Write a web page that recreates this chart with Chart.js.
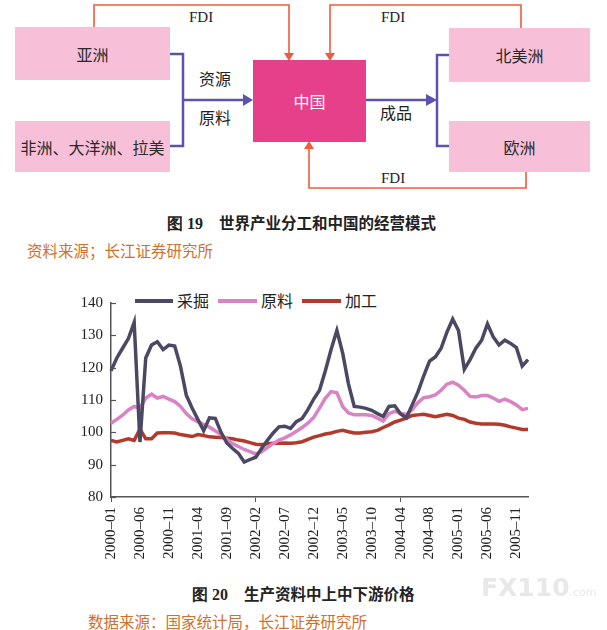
<!DOCTYPE html>
<html>
<head>
<meta charset="utf-8">
<script src="https://cdn.jsdelivr.net/npm/chart.js@4.4.0/dist/chart.umd.min.js"></script>
<style>
html,body{margin:0;padding:0;background:#fff;}
body{width:607px;height:630px;position:relative;overflow:hidden;font-family:"Noto Sans CJK SC",sans-serif;color:#222;}
.box{position:absolute;background:#f8bfd9;display:flex;align-items:center;justify-content:center;font-size:16px;color:#2a2a2a;}
.t{position:absolute;white-space:nowrap;line-height:20px;height:20px;}
.src{color:#d0702c;font-size:15.5px;}
.cap{font-weight:bold;font-size:15.5px;}
.cap b{font-family:"Liberation Serif",serif;font-size:16px;margin-right:16px;}
#legend{position:absolute;left:0;top:290px;height:20px;}
.lg{position:absolute;top:0;height:20px;line-height:20px;font-size:16px;white-space:nowrap;}
.lg i{position:absolute;top:9px;height:4px;}
#wrap{position:absolute;left:40px;top:285px;width:500px;height:295px;}
</style>
</head>
<body>

<svg width="607" height="200" style="position:absolute;left:0;top:0">
  <g fill="none" stroke="#ef5b3b" stroke-width="1.6">
    <path d="M94 27 V5 H289 V56"/>
    <path d="M521 28 V5 H330 V56"/>
    <path d="M526 172 V188 H309 V146"/>
  </g>
  <g fill="#ef5b3b">
    <polygon points="284,53 294,53 289,61"/>
    <polygon points="325,53 335,53 330,61"/>
    <polygon points="304,149 314,149 309,141"/>
  </g>
  <g fill="none" stroke="#5b53ae" stroke-width="2.5">
    <path d="M170 54 H183 V146 H170"/>
    <path d="M183 100 H246"/>
    <path d="M366 100 H428"/>
    <path d="M449 55 H437 V146 H449"/>
  </g>
  <g fill="#5b53ae">
    <polygon points="243,94 243,106 253,100"/>
    <polygon points="426,94 426,106 437,100"/>
  </g>
</svg>

<div class="box" style="left:15px;top:27px;width:155px;height:53px">亚洲</div>
<div class="box" style="left:15px;top:121px;width:155px;height:51px">非洲、大洋洲、拉美</div>
<div class="box" style="left:253px;top:60px;width:113px;height:82px;background:#e6408a;color:#fff;font-size:16px">中国</div>
<div class="box" style="left:449px;top:28px;width:141px;height:54px">北美洲</div>
<div class="box" style="left:449px;top:121px;width:141px;height:51px">欧洲</div>

<div class="t" style="left:189px;top:7px;font-family:'Liberation Serif',serif;font-size:15px">FDI</div>
<div class="t" style="left:381px;top:7px;font-family:'Liberation Serif',serif;font-size:15px">FDI</div>
<div class="t" style="left:381px;top:168px;font-family:'Liberation Serif',serif;font-size:15px">FDI</div>
<div class="t" style="left:199px;top:68px;font-size:16px">资源</div>
<div class="t" style="left:199px;top:107px;font-size:16px">原料</div>
<div class="t" style="left:380px;top:102px;font-size:16px">成品</div>

<div class="t cap" style="left:167px;top:212px"><b>图 19</b>世界产业分工和中国的经营模式</div>
<div class="t src" style="left:27px;top:240px">资料来源；长江证券研究所</div>

<div id="legend"></div>
<div id="wrap"><canvas id="chart"></canvas></div>

<div class="t cap" style="left:192px;top:583px"><b>图 20</b>生产资料中上中下游价格</div>
<div class="t src" style="left:88px;top:611px">数据来源：国家统计局，长江证券研究所</div>
<div class="t" style="left:481px;top:574px;height:28px;line-height:28px;font-family:'DejaVu Sans',sans-serif;font-weight:bold;font-size:25px;color:#e8e8e8">FX110<span style="font-size:11px;font-weight:normal">.com</span></div>

<script>
// months on the category axis
const months = [
  '2000-01','2000-02','2000-03','2000-04','2000-05','2000-06','2000-07','2000-08','2000-09','2000-10','2000-11','2000-12',
  '2001-01','2001-02','2001-03','2001-04','2001-05','2001-06','2001-07','2001-08','2001-09','2001-10','2001-11','2001-12',
  '2002-01','2002-02','2002-03','2002-04','2002-05','2002-06','2002-07','2002-08','2002-09','2002-10','2002-11','2002-12',
  '2003-01','2003-02','2003-03','2003-04','2003-05','2003-06','2003-07','2003-08','2003-09','2003-10','2003-11','2003-12',
  '2004-01','2004-02','2004-03','2004-04','2004-05','2004-06','2004-07','2004-08','2004-09','2004-10','2004-11','2004-12',
  '2005-01','2005-02','2005-03','2005-04','2005-05','2005-06','2005-07','2005-08','2005-09','2005-10','2005-11','2005-12',
  '2006-01'
];
// labels printed under every 5th month, as in the source
const tickLabels = ['2000–01','2000–06','2000–11','2001–04','2001–09','2002–02','2002–07','2002–12',
  '2003–05','2003–10','2004–04','2004–08','2005–01','2005–06','2005–11'];
const yTicks = [80, 90, 100, 110, 120, 130, 140];

const seriesNames = ['采掘', '原料', '加工'];
const mining = [119,123,126,129,134,97,123,127,128,125.6,
  127,126.7,120.4,111.5,107.5,104,100.5,104.5,104.3,100,
  96.7,95,93.5,90.8,91.6,92.3,95,97.5,99.8,101.7,
  101.9,101.2,103.3,104.3,107,110.3,113,119,125.6,131.5,
  124.5,115,108,107.8,107.4,106.8,105.8,104.9,108,108.2,
  105.7,104.5,108.5,112.5,117.5,122,123.3,126,131,135,
  131.5,119.5,122.5,126,128.5,133.5,129.5,127,128.5,127.5,
  126.2,120.5,122.5];
const material = [102.8,104,105.3,106.9,108,107.5,110.6,111.8,110.6,111.1,
  110.3,109.5,108,105.8,104.2,103.3,102.4,101.6,100.5,99.3,
  97.8,96.5,95.6,94.7,94,93.3,94,95.3,96.5,97.6,
  98.3,99.2,100.3,101.5,102.8,104.6,107.5,110.5,112.6,112.2,
  108,106,105.4,105.4,105.4,105.2,104.4,103.5,105.8,106.5,
  105.9,105.5,107,109.2,110.7,111,111.6,113,114.9,115.5,
  114.6,113,111.1,110.9,111.4,111.4,110.6,109.6,110.3,109.5,
  108.5,107,107.4];
const processing = [97.5,97,97.5,98,97.5,101,98,98,99.8,99.9,
  99.9,99.8,99.3,99,98.7,99.3,99,98.6,98.5,98.4,
  98.2,98,97.6,97.3,96.8,96.3,96.2,96.5,96.6,96.6,
  96.7,96.6,96.8,97.1,97.8,98.5,99,99.5,99.8,100.3,
  100.6,100.2,99.8,99.8,100,100.2,100.6,101.5,102.3,103.2,
  103.8,104.4,105.2,105.4,105.6,105.2,104.8,105.2,105.6,105.2,
  104.4,104,103.2,102.8,102.6,102.6,102.6,102.5,102.2,101.7,
  101.3,100.9,100.9];
const colors = ['#4a4862', '#d983c4', '#b23a2c'];

// legend as html text
const legendPos = [[135, 177], [218, 261], [302, 345]];
const legend = document.getElementById('legend');
seriesNames.forEach((name, i) => {
  const d = document.createElement('div');
  d.className = 'lg';
  d.style.left = legendPos[i][0] + 'px';
  d.innerHTML = '<i style="left:0;width:' + (legendPos[i][1] - legendPos[i][0] - 4) + 'px;background:' + colors[i] + '"></i>' +
    '<span style="position:absolute;left:' + (legendPos[i][1] - legendPos[i][0]) + 'px">' + name + '</span>';
  legend.appendChild(d);
});

// small inward ticks on the y axis
const yInnerTicks = {
  id: 'yInnerTicks',
  afterDraw(chart) {
    const y = chart.scales.y, ctx = chart.ctx, left = chart.chartArea.left;
    ctx.save();
    ctx.strokeStyle = '#555';
    ctx.lineWidth = 1.2;
    yTicks.forEach(v => {
      const py = Math.round(y.getPixelForValue(v)) + 0.5;
      ctx.beginPath();
      ctx.moveTo(left, py);
      ctx.lineTo(left + 5, py);
      ctx.stroke();
    });
    ctx.restore();
  }
};

const ctx = document.getElementById('chart');
new Chart(ctx, {
  type: 'line',
  data: {
    labels: months,
    datasets: [mining, material, processing].map((d, i) => ({
      label: seriesNames[i],
      data: d,
      borderColor: colors[i],
      backgroundColor: colors[i],
      borderWidth: 3.5,
      pointRadius: 0,
      tension: 0,
      fill: false
    }))
  },
  options: {
    responsive: true,
    maintainAspectRatio: false,
    animation: false,
    layout: { padding: { left: 0, right: 12, top: 18, bottom: 0 } },
    plugins: { legend: { display: false }, tooltip: { enabled: false } },
    scales: {
      x: {
        offset: false,
        afterFit: s => { s.height = 83; },
        grid: {
          drawOnChartArea: false,
          drawTicks: true,
          tickLength: 5,
          color: c => (c.index % 5 === 0 ? '#555' : 'rgba(0,0,0,0)')
        },
        border: { display: true, color: '#555', width: 1.5 },
        ticks: {
          autoSkip: false,
          maxRotation: 90,
          minRotation: 90,
          padding: 5,
          color: '#222',
          font: { family: 'Liberation Serif', size: 15 },
          callback: (v, i) => (i % 5 === 0 ? tickLabels[i / 5] : null)
        }
      },
      y: {
        min: 80,
        max: 140,
        afterFit: s => { s.width = 71; },
        grid: { drawOnChartArea: false, drawTicks: false },
        border: { display: true, color: '#555', width: 1.5 },
        ticks: {
          stepSize: 10,
          padding: 8,
          color: '#222',
          font: { family: 'Liberation Serif', size: 15 }
        }
      }
    }
  },
  plugins: [yInnerTicks]
});
</script>
</body>
</html>
